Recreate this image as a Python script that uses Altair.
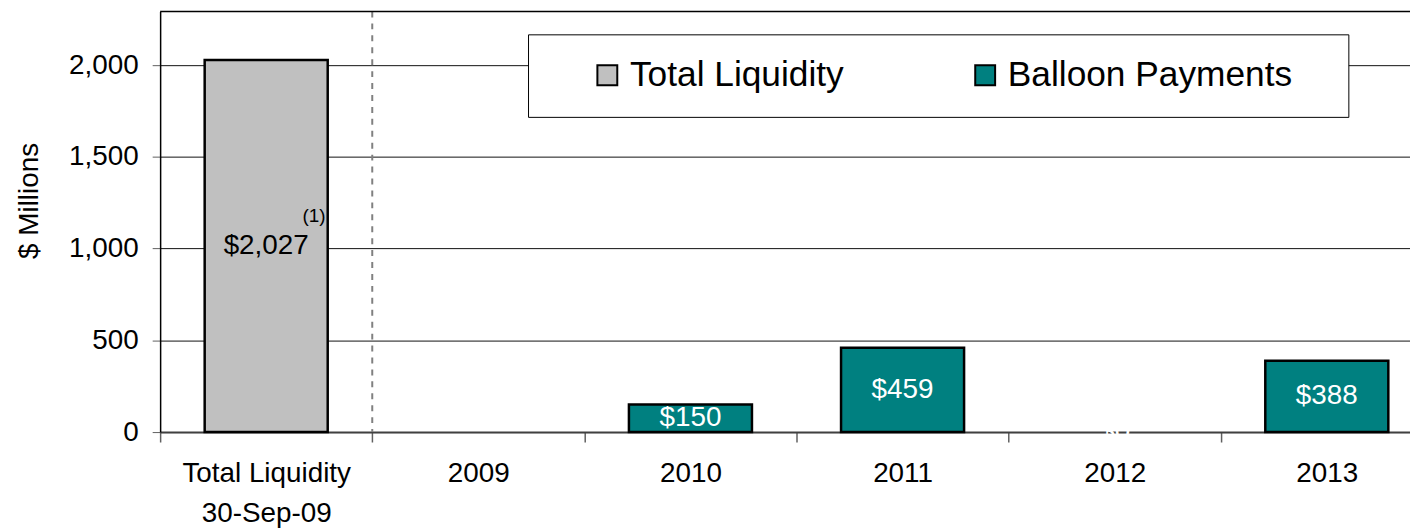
import altair as alt
import pandas as pd

# ---- data ----
categories = ["Total Liquidity|30-Sep-09", "2009", "2010", "2011", "2012", "2013"]
values = [2027, 0, 150, 459, 0, 388]
series = ["Total Liquidity", "Balloon Payments", "Balloon Payments",
          "Balloon Payments", "Balloon Payments", "Balloon Payments"]
value_labels = ["$2,027", "", "$150", "$459", "$0", "$388"]
legend_order = ["Total Liquidity", "Balloon Payments"]
series_colors = ["#C0C0C0", "#008080"]
footnote_cat = [categories[0]]
footnote_value = [2027]
footnote_text = ["(1)"]
separator_cat = [categories[0]]
y_ticks = [0, 500, 1000, 1500, 2000]
y_max = 2292

FONT = "Liberation Sans"

df = pd.DataFrame({"cat": categories, "value": values, "series": series, "label": value_labels})
foot_df = pd.DataFrame({"cat": footnote_cat, "value": footnote_value, "label": footnote_text})
sep_df = pd.DataFrame({"cat": separator_cat})
top_df = pd.DataFrame({"top": [y_max]})

# the category axis runs past the right edge of the picture, as in the reference
x_scale = alt.Scale(domain=categories, paddingInner=0, paddingOuter=0, range=[0, 1280])
y_scale = alt.Scale(domain=[0, y_max], nice=False, zero=True)

x_axis = alt.Axis(
    title=None, labelAngle=0, labelFont=FONT, labelFontSize=28, labelColor="black",
    labelLineHeight=40, labelPadding=18, labelExpr="split(datum.label, '|')",
    tickBand="extent", tickSize=10, tickColor="#606060", tickWidth=1.5,
    domainColor="#404040", domainWidth=2, grid=False,
)
y_axis = alt.Axis(
    values=y_ticks, format=",.0f", title="$ Millions", titleFont=FONT, titleFontSize=28,
    titleFontWeight="normal", titleColor="black", titleX=-131, titleY=190, titleAngle=270,
    titleAlign="center", titleBaseline="middle",
    labelFont=FONT, labelFontSize=28, labelColor="black", labelPadding=14,
    tickSize=8, tickColor="#606060", domainColor="black", domainWidth=1.5,
    grid=True, gridColor="#111111", gridWidth=1,
)

legend = alt.Legend(
    orient="none", legendX=370, legendY=23, direction="horizontal", columns=2, gridAlign="all",
    symbolType="square", symbolSize=400, symbolStrokeColor="black", symbolStrokeWidth=2,
    labelFont=FONT, labelFontSize=35.5, labelColor="black", labelOffset=5, labelLimit=0,
    symbolOffset=39, columnPadding=14, padding=23, strokeColor="black", fillColor="white",
    title=" ", titleOrient="right", titlePadding=33, titleFontSize=10,
)

base = alt.Chart(df)

bars = base.mark_bar(stroke="black", strokeWidth=2.5, width=alt.RelativeBandSize(0.58)).encode(
    x=alt.X("cat:N", sort=categories, scale=x_scale, axis=x_axis),
    y=alt.Y("value:Q", scale=y_scale, axis=y_axis),
    color=alt.Color("series:N", scale=alt.Scale(domain=legend_order, range=series_colors), legend=legend),
).transform_filter("datum.value > 0")

labels = base.mark_text(font=FONT, fontSize=28, baseline="middle", align="center").encode(
    x=alt.X("cat:N", sort=categories),
    y=alt.Y("mid:Q"),
    text="label:N",
    color=alt.condition(alt.datum.series == "Total Liquidity", alt.value("black"), alt.value("white")),
).transform_filter("datum.label != ''").transform_calculate(mid="datum.value / 2")

foot = alt.Chart(foot_df).mark_text(font=FONT, fontSize=19, dx=48, dy=-30, color="black").encode(
    x=alt.X("cat:N", sort=categories),
    y=alt.Y("mid:Q"),
    text="label:N",
).transform_calculate(mid="datum.value / 2")

sep = alt.Chart(sep_df).mark_rule(color="#808080", strokeWidth=2, strokeDash=[6, 6]).encode(
    x=alt.X("cat:N", sort=categories, bandPosition=1),
)

top = alt.Chart(top_df).mark_rule(color="black", strokeWidth=1.5).encode(
    y=alt.Y("top:Q"),
)

chart = alt.layer(bars, labels, foot, sep, top).properties(
    width=1257, height=423,
    padding={"left": 153, "top": 2, "right": 0, "bottom": 96},
    autosize=alt.AutoSizeParams(type="none"),
).configure_view(stroke=None)

chart.save("out.html", embed_options={"renderer": "svg", "actions": False})
